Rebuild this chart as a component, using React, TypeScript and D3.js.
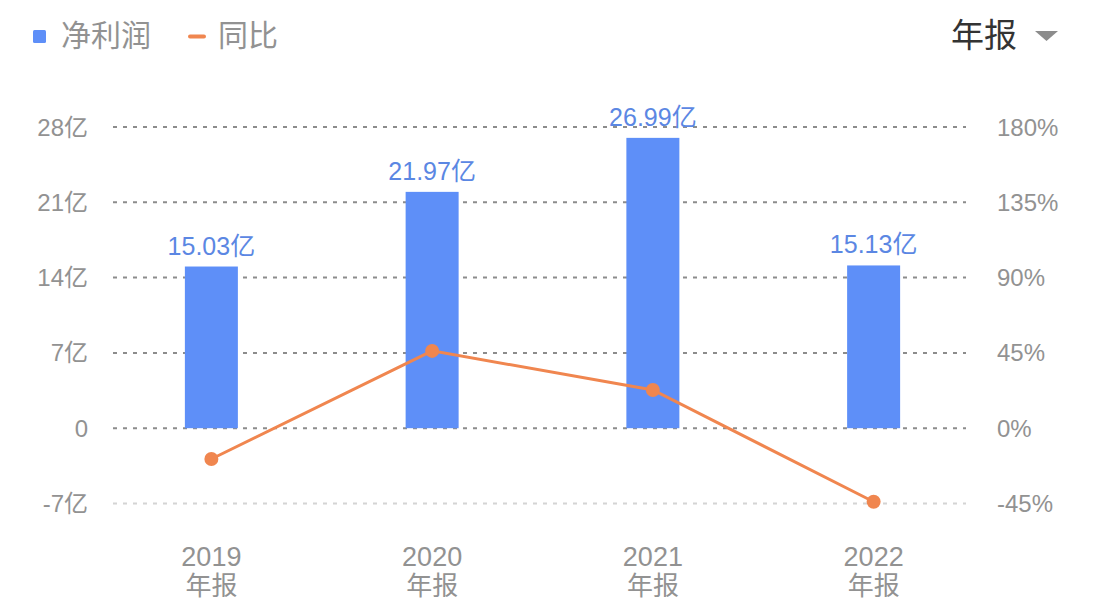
import React, { useEffect, useRef } from 'react';
import * as d3 from 'd3';

const years = ['2019', '2020', '2021', '2022'];
const profit = [15.03, 21.97, 26.99, 15.13];
const growth = [-18.4, 46.2, 22.85, -43.94];
const leftTicks = [-7, 0, 7, 14, 21, 28];
const rightTicks = [-45, 0, 45, 90, 135, 180];

const FONT = '"Liberation Sans", "Noto Sans CJK SC", sans-serif';
const BLUE = '#5e8ff8';
const ORANGE = '#f0864f';
const GREY = '#929292';

const App = () => {
  const svgRef = useRef<SVGSVGElement>(null);

  const width = 1104;
  const height = 603;

  useEffect(() => {
    const svg = d3.select(svgRef.current);
    svg.selectAll('*').remove();

    const x = d3.scaleBand().domain(years).range([101, 984]);
    const yL = d3.scaleLinear().domain([-7, 28]).range([503.5, 127]);
    const yR = d3.scaleLinear().domain([-45, 180]).range([503.5, 127]);

    // grid
    svg.append('g')
      .selectAll('line')
      .data(leftTicks)
      .join('line')
      .attr('x1', 113)
      .attr('x2', 966)
      .attr('y1', d => yL(d))
      .attr('y2', d => yL(d))
      .attr('stroke', d => (d === -7 ? '#d4d4d4' : '#8c8c8c'))
      .attr('stroke-width', 2)
      .attr('stroke-dasharray', '4 6');

    // left axis labels
    svg.append('g')
      .selectAll('text')
      .data(leftTicks)
      .join('text')
      .attr('x', 88)
      .attr('y', d => yL(d) + 8.5)
      .attr('text-anchor', 'end')
      .attr('fill', GREY)
      .style('font-size', '24px')
      .style('font-family', FONT)
      .text(d => (d === 0 ? '0' : `${d}亿`));

    // right axis labels
    svg.append('g')
      .selectAll('text')
      .data(rightTicks)
      .join('text')
      .attr('x', 997)
      .attr('y', d => yR(d) + 8.5)
      .attr('fill', GREY)
      .style('font-size', '24px')
      .style('font-family', FONT)
      .text(d => `${d}%`);

    // bars
    const barW = 53;
    svg.append('g')
      .selectAll('rect')
      .data(profit)
      .join('rect')
      .attr('x', (d, i) => x(years[i])! + x.bandwidth() / 2 - barW / 2)
      .attr('y', d => yL(d))
      .attr('width', barW)
      .attr('height', d => yL(0) - yL(d))
      .attr('fill', BLUE);

    // bar labels
    svg.append('g')
      .selectAll('text')
      .data(profit)
      .join('text')
      .attr('x', (d, i) => x(years[i])! + x.bandwidth() / 2)
      .attr('y', d => yL(d) - 12)
      .attr('text-anchor', 'middle')
      .attr('fill', '#5b87e3')
      .style('font-size', '25px')
      .style('font-family', FONT)
      .text(d => `${d.toFixed(2)}亿`);

    // growth line
    const line = d3.line<number>()
      .x((d, i) => x(years[i])! + x.bandwidth() / 2)
      .y(d => yR(d));

    svg.append('path')
      .datum(growth)
      .attr('d', line)
      .attr('fill', 'none')
      .attr('stroke', ORANGE)
      .attr('stroke-width', 3);

    svg.append('g')
      .selectAll('circle')
      .data(growth)
      .join('circle')
      .attr('cx', (d, i) => x(years[i])! + x.bandwidth() / 2)
      .attr('cy', d => yR(d))
      .attr('r', 7)
      .attr('fill', ORANGE);

    // x labels
    const xl = svg.append('g')
      .selectAll('g')
      .data(years)
      .join('g')
      .attr('transform', d => `translate(${x(d)! + x.bandwidth() / 2},0)`);
    xl.append('text')
      .attr('y', 566)
      .attr('text-anchor', 'middle')
      .attr('fill', GREY)
      .style('font-size', '27px')
      .style('font-family', FONT)
      .text(d => d);
    xl.append('text')
      .attr('y', 595)
      .attr('text-anchor', 'middle')
      .attr('fill', GREY)
      .style('font-size', '26px')
      .style('font-family', FONT)
      .text('年报');

    // legend
    svg.append('rect')
      .attr('x', 33).attr('y', 30).attr('width', 13).attr('height', 13)
      .attr('rx', 1.5).attr('fill', BLUE);
    svg.append('text')
      .attr('x', 61).attr('y', 46)
      .attr('fill', GREY)
      .style('font-size', '30px')
      .style('font-family', FONT)
      .text('净利润');
    svg.append('line')
      .attr('x1', 190).attr('x2', 204).attr('y1', 36.5).attr('y2', 36.5)
      .attr('stroke', ORANGE).attr('stroke-width', 4).attr('stroke-linecap', 'round');
    svg.append('text')
      .attr('x', 218).attr('y', 46)
      .attr('fill', GREY)
      .style('font-size', '30px')
      .style('font-family', FONT)
      .text('同比');

    // period selector
    svg.append('text')
      .attr('x', 951).attr('y', 47)
      .attr('fill', '#333333')
      .style('font-size', '33px')
      .style('font-family', FONT)
      .text('年报');
    svg.append('path')
      .attr('d', 'M1035,31 L1058,31 L1046.5,41 Z')
      .attr('fill', '#8c8c8c');
  }, []);

  return (
    <svg
      ref={svgRef}
      width={width}
      height={height}
      style={{ position: 'absolute', left: 0, top: 0, background: '#fff' }}
    />
  );
};

export default App;
